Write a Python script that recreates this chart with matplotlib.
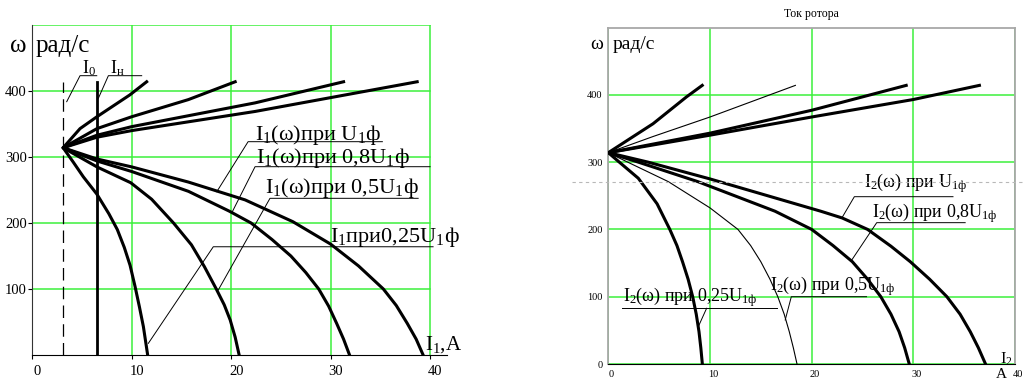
import matplotlib.pyplot as plt
from matplotlib.lines import Line2D
from matplotlib.transforms import ScaledTranslation

plt.rcParams['font.family'] = ['Liberation Serif', 'DejaVu Serif']
plt.rcParams['mathtext.fontset'] = 'custom'
plt.rcParams['mathtext.rm'] = 'Liberation Serif'
plt.rcParams['mathtext.it'] = 'Liberation Serif'
plt.rcParams['mathtext.default'] = 'regular'

# ---- stator current I1(w) (generator part on top, motor part below)
i1_u = [38.7, 22.4, 10, 6.5, 3.1, 6.5, 10, 15.7, 21.4, 26.2, 30, 32.8, 35.3, 36.6, 37.7, 38.6, 39.3]
w1_u = [414, 369, 340, 330, 314, 297, 285, 262, 235, 202, 168, 135, 100, 75, 48, 24, 0]
i1_08 = [31.3, 22.4, 10, 6.5, 3.1, 6.5, 10, 15.7, 19.8, 22.0, 24.1, 26.0, 27.5, 28.8, 29.8, 30.6, 31.3, 31.9]
w1_08 = [414, 382, 346, 333, 314, 294, 278, 248, 218, 200, 175, 150, 125, 100, 74, 48, 24, 0]
i1_05 = [20.4, 15.7, 10, 6.5, 3.1, 6.5, 9.9, 12.0, 14.2, 16.0, 17.3, 18.5, 19.3, 19.9, 20.4, 20.8]
w1_05 = [414, 387, 361, 343, 314, 285, 261, 236, 200, 167, 134, 100, 76, 53, 27, 0]
i1_025 = [11.5, 9.8, 6.5, 4.8, 3.1, 4.13, 5.13, 6.48, 7.7, 8.55, 9.25, 9.83, 10.33, 10.77, 11.17, 11.6]
w1_025 = [414, 394, 361, 343, 314, 292, 270, 244, 214, 190, 163, 136, 104, 73, 43, 0]
i0 = 3.1      # no-load current
i_nom = 6.5   # rated current
w_top = 414

# ---- rotor current I2(w), right chart
i2_u = [36.5, 30, 20, 10, 0, 3.9, 10, 20.9, 23.0, 25.5, 27.8, 29.7, 31.6, 33.3, 34.6, 35.6, 36.4, 37.1]
w2_u = [414, 393, 367, 340, 314, 300, 275, 227, 217, 200, 175, 152, 126, 100, 74, 48, 24, 0]
i2_08 = [29.3, 20, 10, 0, 2.94, 8.8, 16.4, 20, 22.1, 24.0, 25.5, 26.8, 27.8, 28.6, 29.15, 29.6]
w2_08 = [414, 377, 343, 314, 300, 271, 227, 200, 176, 152, 126, 100, 74, 48, 24, 0]
i2_05 = [18.4, 10, 4.4, 0, 1.9, 5.9, 10, 12.75, 14.0, 15.0, 15.9, 16.67, 17.3, 17.8, 18.2, 18.56]
w2_05 = [414, 367, 338, 314, 300, 271, 232, 200, 176, 152, 126, 100, 74, 48, 24, 0]
i2_025 = [9.24, 7.7, 4.4, 0, 1.0, 2.95, 4.8, 6.05, 6.75, 7.3, 7.85, 8.3, 8.65, 8.92, 9.1, 9.25]
w2_025 = [414, 397, 357, 314, 301, 276, 238, 200, 176, 152, 126, 100, 74, 48, 24, 0]

x_ticks = [0, 10, 20, 30, 40]
y_ticks_left = [100, 200, 300, 400]
y_ticks_right = [0, 100, 200, 300, 400]

green = '#3cf03c'
W, H = 1023, 381
fig = plt.figure(figsize=(W / 100, H / 100), dpi=100)

# ================= left chart =================
ax1 = fig.add_axes([32.3 / W, 26 / H, 414.7 / W, 330 / H])
ax1.set_xlim(0, 41.7)
ax1.set_ylim(0, 500)
for v in x_ticks[1:]:
    ax1.plot([v, v], [0, 500], color=green, lw=1.1, zorder=1)
for v in y_ticks_left + [500]:
    ax1.plot([0, 40], [v, v], color=green, lw=1.1, zorder=1)

for xs, ys in [(i1_u, w1_u), (i1_08, w1_08), (i1_05, w1_05), (i1_025, w1_025)]:
    ax1.plot(xs, ys, color='black', lw=2.2, solid_joinstyle='round', zorder=3)
ax1.plot([i0, i0], [0, w_top], color='black', lw=0.9, dashes=(10, 5), zorder=3)
ax1.plot([i_nom, i_nom], [0, w_top], color='black', lw=2.0, zorder=3)

ax1.spines['top'].set_visible(False)
ax1.spines['right'].set_visible(False)
ax1.spines['left'].set_color('#333333')
ax1.spines['bottom'].set_color('black')
ax1.set_xticks(x_ticks)
ax1.set_yticks(y_ticks_left)
ax1.tick_params(axis='both', labelsize=10.5, length=3, width=0.8, pad=1)
ax1.tick_params(axis='x', pad=4)
for lab in ax1.get_xticklabels():
    lab.set_transform(lab.get_transform() + ScaledTranslation(0.05, 0, fig.dpi_scale_trans))

ax1.text(-2.24, 458.6, 'ω', fontsize=18, clip_on=False)
ax1.text(0.37, 458.6, 'рад/с', fontsize=18, clip_on=False)
ax1.text(5.0, 426.8, 'I$_0$', fontsize=13)
ax1.text(7.83, 426.8, 'I$_н$', fontsize=13)


def leader(ax, pts, lw=0.7):
    xs, ys = zip(*pts)
    ax.add_line(Line2D(xs, ys, color='black', lw=lw, clip_on=False, zorder=4))


leader(ax1, [(3.46, 383.8), (4.8, 423.2), (6.48, 423.2)])
leader(ax1, [(6.64, 388.9), (7.65, 423.2), (11.0, 423.2)])

ax1.text(22.4, 325.8, 'I$_1$(ω)при U$_1$ф', fontsize=16)
leader(ax1, [(18.55, 247.4), (21.7, 323.2), (35.2, 323.2)])
ax1.text(22.5, 290.4, 'I$_1$(ω)при 0,8U$_1$ф', fontsize=16)
leader(ax1, [(20.06, 215.5), (22.4, 285.3), (40.0, 285.3)])
ax1.text(23.4, 246, 'I$_1$(ω)при 0,5U$_1$ф', fontsize=16)
leader(ax1, [(18.7, 98.5), (23.9, 237.4), (38.8, 237.4)])
ax1.text(29.9, 171.7, 'I$_1$при0,25U$_1$ф', fontsize=16, clip_on=False)
leader(ax1, [(11.67, 17.7), (18.2, 164), (40.3, 164)])
ax1.text(39.5, 7.6, 'I$_1$,A', fontsize=15, clip_on=False)

# ================= right chart =================
ax2 = fig.add_axes([608.3 / W, 17 / H, 406.7 / W, 336.5 / H])
ax2.set_xlim(0, 40)
ax2.set_ylim(0, 500)
ax2.set_xticks(x_ticks)
ax2.set_yticks(y_ticks_right)
ax2.grid(True, color=green, lw=1.1, zorder=1)
ax2.set_axisbelow(True)

for xs, ys, lw in [(i2_u, w2_u, 2.2), (i2_08, w2_08, 2.2), (i2_05, w2_05, 0.8), (i2_025, w2_025, 2.2)]:
    ax2.plot(xs, ys, color='black', lw=lw, solid_joinstyle='round', zorder=3)

for s in ['left', 'right', 'top']:
    ax2.spines[s].set_color('#a8a8a8')
    ax2.spines[s].set_linewidth(1.3)
ax2.spines['bottom'].set_color('black')
ax2.tick_params(axis='both', labelsize=7.5, length=0, pad=4)
for lab in ax2.get_xticklabels():
    lab.set_transform(lab.get_transform() + ScaledTranslation(0.03, 0, fig.dpi_scale_trans))

fig.text(811.7 / W, 1 - 14.3 / H, 'Ток ротора', fontsize=8.5, ha='center', va='center')
ax2.text(-1.8, 467.6, 'ω', fontsize=14, clip_on=False)
ax2.text(0.43, 467.6, 'рад/с', fontsize=14)

ax2.text(25.1, 262, 'I$_2$(ω) при U$_{1ф}$', fontsize=13)
leader(ax2, [(22.95, 216.5), (24.2, 248.6), (33.9, 248.6)])
ax2.text(25.9, 218, 'I$_2$(ω) при 0,8U$_{1ф}$', fontsize=13)
leader(ax2, [(23.9, 153.5), (26.4, 210), (35.1, 210)])
ax2.text(15.9, 109, 'I$_2$(ω) при 0,5U$_{1ф}$', fontsize=13)
leader(ax2, [(17.4, 65.4), (18.0, 100), (25.4, 100)])
ax2.text(1.45, 92.6, 'I$_2$(ω) при 0,25U$_{1ф}$', fontsize=13)
leader(ax2, [(8.85, 55.4), (9.67, 82.8)])
leader(ax2, [(1.3, 83.7), (16.6, 83.7)])
ax2.text(38.5, 1, 'I$_2$', fontsize=12, clip_on=False)
ax2.text(38.1, -20.5, 'A', fontsize=11, clip_on=False)

# dotted guide line across the right panel
fig.add_artist(Line2D([572 / W, 1.0], [1 - 181.5 / H, 1 - 181.5 / H], color='#b8b8b8',
                      lw=0.8, dashes=(3, 3)))

fig.savefig('out.png', dpi=100)
